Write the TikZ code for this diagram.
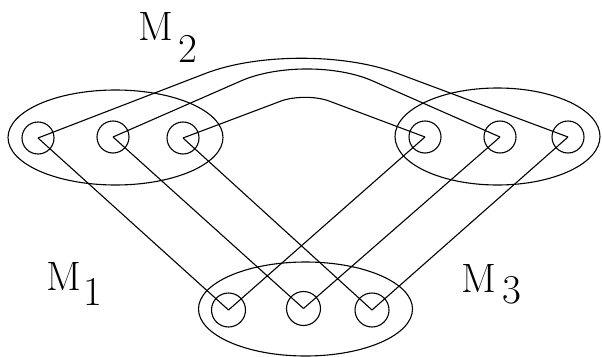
\documentclass[tikz,border=0pt]{standalone}
\usepackage{fontspec}
\usetikzlibrary{shapes.geometric,calc}
\begin{document}
\begin{tikzpicture}[x=1pt,y=-1pt,line width=1.1pt,
  dot/.style={circle,draw,minimum size=32pt,inner sep=0pt},
  grp/.style={ellipse,draw,inner sep=0pt},
  lbl/.style={inner sep=0pt,anchor=base west,font=\rmfamily\fontsize{41}{41}\selectfont}]
\useasboundingbox (0,0) rectangle (602,356);
% group ellipses
\node[grp,minimum width=215pt,minimum height=95pt] (el) at (115.5,137.5) {};
\node[grp,minimum width=205pt,minimum height=97pt] (er) at (497.5,136.5) {};
\node[grp,minimum width=214pt,minimum height=94pt] (eb) at (305.5,309) {};
% small circles
\node[dot] (l1) at (38,138) {};
\node[dot] (l2) at (113,137) {};
\node[dot] (l3) at (183,138) {};
\node[dot] (r1) at (425,137) {};
\node[dot] (r2) at (500,137) {};
\node[dot] (r3) at (568,137) {};
\node[dot,minimum size=34pt] (b1) at (228.5,310) {};
\node[dot,minimum size=34pt] (b2) at (303.5,308.5) {};
\node[dot,minimum size=34pt] (b3) at (372,310) {};
% apex points of the arcs
\coordinate (x1) at (300,37);
\coordinate (x2) at (307,52);
\coordinate (x3) at (305,92);
% arcs over the top
\draw (l1.center) -- ($(l1.center)!0.64!(x1)$)
  .. controls ($(l1.center)!0.838!(x1)$) and ($(r3.center)!0.838!(x1)$)
  .. ($(r3.center)!0.64!(x1)$) -- (r3.center);
\draw (l2.center) -- ($(l2.center)!0.66!(x2)$)
  .. controls ($(l2.center)!0.847!(x2)$) and ($(r2.center)!0.847!(x2)$)
  .. ($(r2.center)!0.66!(x2)$) -- (r2.center);
\draw (l3.center) -- ($(l3.center)!0.8!(x3)$)
  .. controls ($(l3.center)!0.91!(x3)$) and ($(r1.center)!0.91!(x3)$)
  .. ($(r1.center)!0.8!(x3)$) -- (r1.center);
% straight connectors
\draw (l1.center) -- (b1.center);
\draw (l2.center) -- (b2.center);
\draw (l3.center) -- (b3.center);
\draw (r1.center) -- (b1.center);
\draw (r2.center) -- (b2.center);
\draw (r3.center) -- (b3.center);
% labels
\node[lbl] (m2) at (138,40) {M\kern5pt\raisebox{-22pt}{2}};
\node[lbl] (m1) at (46,290) {M\kern2.5pt\raisebox{-15pt}{1}};
\node[lbl] (m3) at (461,292) {M\kern6.5pt\raisebox{-11pt}{3}};
\end{tikzpicture}
\end{document}
